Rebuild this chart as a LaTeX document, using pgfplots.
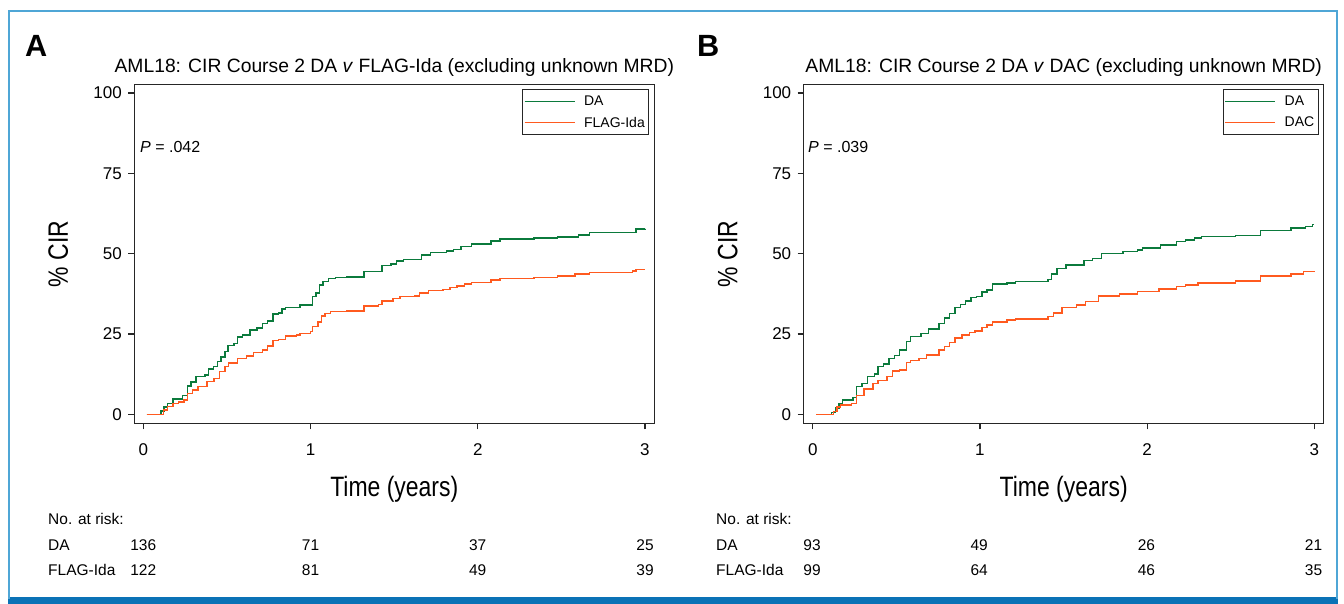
\documentclass[border=0pt]{standalone}
\usepackage{fontspec}
\setmainfont{Liberation Sans}
\newfontfamily\condfont{Liberation Sans}[FakeStretch=0.82]
\usepackage{pgfplots}
\usepackage{pgfplotstable}
\pgfplotsset{compat=1.18}
\definecolor{cgreen}{HTML}{0B7A3C}
\definecolor{corange}{HTML}{FF5A1F}
\definecolor{frameblue}{HTML}{4FA6D6}
\definecolor{barblue}{HTML}{0A72B6}

% Panel A: DA
\pgfplotstableread{
t v
0.02 0
0.107 1.1
0.124 2.2
0.145 3.4
0.177 4.7
0.235 5.9
0.263 8.8
0.284 10.0
0.316 11.7
0.370 12.3
0.391 14.1
0.419 14.8
0.445 16.4
0.466 17.9
0.488 19.5
0.505 21.4
0.541 22.1
0.562 24.0
0.594 24.6
0.637 26.2
0.680 26.8
0.712 28.3
0.744 29.1
0.776 31.2
0.808 31.6
0.830 32.7
0.851 33.2
0.937 34.0
1.011 36.6
1.033 37.7
1.054 40.2
1.075 41.3
1.108 42.3
1.150 42.5
1.214 42.8
1.321 44.5
1.428 46.3
1.482 46.7
1.514 47.7
1.557 48.2
1.663 49.5
1.717 50.3
1.813 50.8
1.856 51.3
1.899 52.2
1.963 53.0
2.080 53.9
2.134 54.5
2.337 54.8
2.476 55.1
2.604 55.8
2.668 56.5
2.946 57.7
3.000 57.8
}\daA

% Panel A: FLAG-Ida
\pgfplotstableread{
t v
0.02 0
0.120 1.3
0.145 2.4
0.177 3.4
0.210 3.9
0.242 4.5
0.263 6.5
0.295 7.6
0.327 8.6
0.381 10.2
0.423 11.2
0.455 13.3
0.488 14.8
0.509 15.9
0.562 17.4
0.616 18.2
0.659 19.2
0.712 20.0
0.744 21.3
0.776 22.9
0.808 23.3
0.851 24.4
0.915 24.7
0.937 25.2
1.001 25.7
1.011 27.3
1.046 28.8
1.065 30.6
1.086 31.4
1.118 32.0
1.214 32.2
1.321 33.7
1.407 34.2
1.428 35.3
1.492 36.1
1.535 36.6
1.621 36.8
1.653 37.7
1.706 38.5
1.792 38.9
1.834 39.5
1.877 40.0
1.920 40.6
1.963 41.0
2.080 41.8
2.134 42.2
2.337 42.6
2.476 43.0
2.583 43.6
2.668 44.1
2.925 44.6
2.946 45.1
3.000 45.1
}\flagA

% Panel B: DA
\pgfplotstableread{
t v
0.02 0
0.113 0.5
0.135 1.9
0.156 3.4
0.177 4.5
0.242 5.3
0.263 8.6
0.295 9.6
0.327 11.7
0.370 12.6
0.391 14.8
0.423 15.7
0.455 17.4
0.488 18.3
0.520 20.0
0.562 22.6
0.584 24.2
0.648 25.2
0.691 26.6
0.755 28.3
0.787 29.9
0.819 31.4
0.851 33.3
0.883 34.2
0.915 35.3
0.947 36.3
0.979 36.6
1.011 38.0
1.043 38.7
1.075 40.5
1.161 40.8
1.214 41.3
1.407 42.0
1.428 43.6
1.460 45.4
1.514 46.5
1.621 47.8
1.674 48.5
1.728 50.1
1.856 50.6
1.941 51.1
1.973 51.7
2.080 52.7
2.177 53.7
2.230 54.3
2.284 54.8
2.326 55.3
2.529 55.6
2.679 57.2
2.861 57.9
2.946 58.4
2.989 59.1
3.000 59.1
}\daB

% Panel B: DAC
\pgfplotstableread{
t v
0.02 0
0.124 0.8
0.145 2.2
0.167 2.9
0.231 3.4
0.263 5.8
0.306 7.9
0.359 9.6
0.391 10.5
0.445 11.7
0.477 13.5
0.520 13.8
0.562 16.1
0.584 16.7
0.637 17.4
0.680 18.5
0.755 20.0
0.787 21.1
0.819 22.3
0.851 23.7
0.894 24.7
0.937 25.4
0.969 25.9
1.011 27.0
1.043 27.8
1.075 28.8
1.161 29.4
1.214 29.7
1.407 30.4
1.439 31.6
1.492 33.3
1.578 34.0
1.632 35.1
1.710 36.8
1.835 37.4
1.941 38.2
2.070 39.0
2.177 39.7
2.230 40.2
2.305 40.8
2.529 41.5
2.679 43.0
2.861 43.6
2.936 44.4
3.000 44.6
}\dacB

\pgfplotsset{
  kmaxis/.style={
    scale only axis, width=520pt, height=339pt,
    anchor=south west,
    xmin=-0.054, xmax=3.056, ymin=-2.8, ymax=102.7,
    xtick={0,1,2,3}, ytick={0,25,50,75,100},
    tick align=outside, xtick pos=bottom, ytick pos=left,
    major tick length=6pt,
    axis line style={line width=1.2pt, black!85},
    every tick/.style={line width=1.2pt, black!85},
    ticklabel style={font=\fontsize{17}{20}\selectfont},
    xticklabel style={yshift=-11pt},
    yticklabel style={xshift=-3pt},
    /pgf/number format/assume math mode=true,
    legend cell align=left,
    legend style={at={(1,1)}, anchor=north east, xshift=-5pt, yshift=-5pt,
      draw=black!85, line width=1pt, font=\fontsize{14}{16}\selectfont,
      inner xsep=1pt, inner ysep=3pt, row sep=4pt,
      nodes={inner sep=3pt},
      /tikz/every odd column/.append style={column sep=6pt}},
  },
  kmline/.style={const plot, line width=1.5pt, no marks, forget plot},
  greenleg/.style={legend image code/.code={\draw[cgreen, line width=1.2pt] (0pt,0pt) -- (50pt,0pt);}},
  orangeleg/.style={legend image code/.code={\draw[corange, line width=1.2pt] (0pt,0pt) -- (50pt,0pt);}},
}

\newcommand{\fs}[1]{\fontsize{#1}{#1}\selectfont}

\begin{document}
\begin{tikzpicture}
\useasboundingbox (0,0) rectangle (1344pt,604pt);
% frame
\fill[barblue] (8pt,0pt) rectangle (1338pt,7pt);
\draw[frameblue, line width=2pt] (9pt,5pt) -- (9pt,593pt) -- (1337pt,593pt) -- (1337pt,5pt);

% Panel A
\begin{axis}[kmaxis, at={(134.3pt,180.7pt)}]
\addplot[kmline, cgreen] table[x=t, y=v] {\daA};
\addplot[kmline, corange] table[x=t, y=v] {\flagA};
\addlegendimage{greenleg}
\addlegendentry{DA}
\addlegendimage{orangeleg}
\addlegendentry{FLAG-Ida}
\end{axis}

% Panel B
\begin{axis}[kmaxis, at={(803.7pt,180.7pt)}]
\addplot[kmline, cgreen] table[x=t, y=v] {\daB};
\addplot[kmline, corange] table[x=t, y=v] {\dacB};
\addlegendimage{greenleg}
\addlegendentry{DA}
\addlegendimage{orangeleg}
\addlegendentry{DAC}
\end{axis}

% Panel letters
\node[anchor=base west, inner sep=0pt, font=\fs{30.7}\bfseries] at (25pt,547pt) {A};
\node[anchor=base west, inner sep=0pt, font=\fs{30.7}\bfseries] at (697pt,547pt) {B};

% Titles
\node[anchor=base, inner sep=0pt, font=\fs{19.3}] at (394.3pt,531pt) {AML18: CIR Course 2 DA \textit{v} FLAG-Ida (excluding unknown MRD)};
\node[anchor=base, inner sep=0pt, font=\fs{19.3}] at (1063.7pt,531pt) {AML18: CIR Course 2 DA \textit{v} DAC (excluding unknown MRD)};

% Axis labels
\node[anchor=base, inner sep=0pt, font=\condfont\fs{28}] at (394.3pt,107pt) {Time (years)};
\node[anchor=base, inner sep=0pt, font=\condfont\fs{28}] at (1063.7pt,107pt) {Time (years)};
\node[anchor=base, rotate=90, inner sep=0pt, font=\condfont\fs{28}] at (68pt,350pt) {\% CIR};
\node[anchor=base, rotate=90, inner sep=0pt, font=\condfont\fs{28}] at (737.4pt,350pt) {\% CIR};

% P values
\node[anchor=base west, inner sep=0pt, font=\fs{16}] at (140pt,451.5pt) {\textit{P} = .042};
\node[anchor=base west, inner sep=0pt, font=\fs{16}] at (808pt,451.5pt) {\textit{P} = .039};

% Number at risk
\begin{scope}[every node/.style={anchor=base, inner sep=0pt, font=\fs{15.5}}]
\node[anchor=base west] at (48pt,79.5pt) {No. at risk:};
\node[anchor=base west] at (48pt,53.5pt) {DA};
\node[anchor=base west] at (48pt,28.5pt) {FLAG-Ida};
\node at (143.3pt,53.5pt) {136};
\node at (310.5pt,53.5pt) {71};
\node at (477.7pt,53.5pt) {37};
\node at (645pt,53.5pt) {25};
\node at (143.3pt,28.5pt) {122};
\node at (310.5pt,28.5pt) {81};
\node at (477.7pt,28.5pt) {49};
\node at (645pt,28.5pt) {39};
\node[anchor=base west] at (716pt,79.5pt) {No. at risk:};
\node[anchor=base west] at (716pt,53.5pt) {DA};
\node[anchor=base west] at (716pt,28.5pt) {FLAG-Ida};
\node at (812pt,53.5pt) {93};
\node at (979.2pt,53.5pt) {49};
\node at (1146.4pt,53.5pt) {26};
\node at (1313.6pt,53.5pt) {21};
\node at (812pt,28.5pt) {99};
\node at (979.2pt,28.5pt) {64};
\node at (1146.4pt,28.5pt) {46};
\node at (1313.6pt,28.5pt) {35};
\end{scope}
\end{tikzpicture}
\end{document}
